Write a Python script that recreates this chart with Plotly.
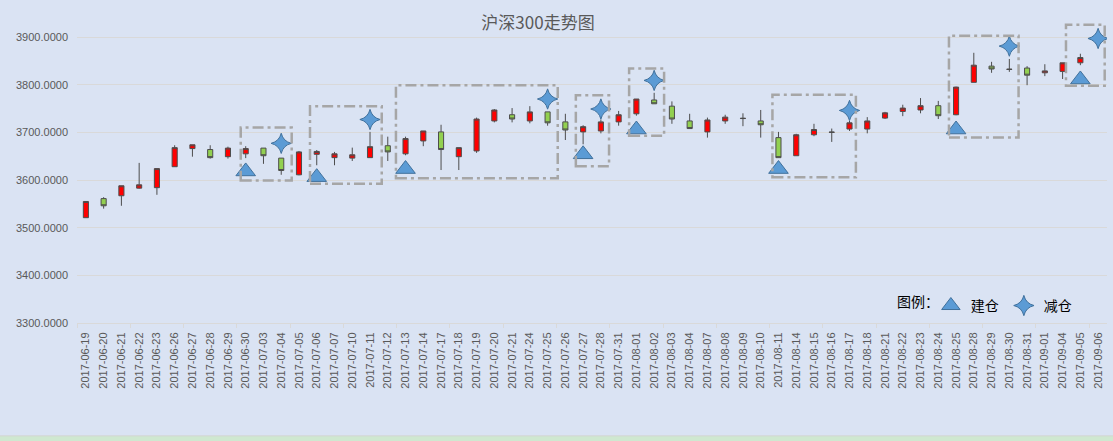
import plotly.graph_objects as go

# ---------------- data ----------------
dates = [
    "2017-06-19", "2017-06-20", "2017-06-21", "2017-06-22", "2017-06-23",
    "2017-06-26", "2017-06-27", "2017-06-28", "2017-06-29", "2017-06-30",
    "2017-07-03", "2017-07-04", "2017-07-05", "2017-07-06", "2017-07-07",
    "2017-07-10", "2017-07-11", "2017-07-12", "2017-07-13", "2017-07-14",
    "2017-07-17", "2017-07-18", "2017-07-19", "2017-07-20", "2017-07-21",
    "2017-07-24", "2017-07-25", "2017-07-26", "2017-07-27", "2017-07-28",
    "2017-07-31", "2017-08-01", "2017-08-02", "2017-08-03", "2017-08-04",
    "2017-08-07", "2017-08-08", "2017-08-09", "2017-08-10", "2017-08-11",
    "2017-08-14", "2017-08-15", "2017-08-16", "2017-08-17", "2017-08-18",
    "2017-08-21", "2017-08-22", "2017-08-23", "2017-08-24", "2017-08-25",
    "2017-08-28", "2017-08-29", "2017-08-30", "2017-08-31", "2017-09-01",
    "2017-09-04", "2017-09-05", "2017-09-06",
]

open_ = [3521, 3561, 3567, 3583, 3584, 3628, 3666, 3664, 3649, 3655,
         3667, 3646, 3611, 3654, 3647, 3646, 3647, 3672, 3655, 3682,
         3701, 3649, 3661, 3724, 3737, 3724, 3743, 3722, 3701, 3703,
         3722, 3739, 3768, 3755, 3724, 3701, 3724, 3729, 3724, 3689,
         3651, 3695, 3700, 3707, 3707, 3730, 3744, 3747, 3756, 3737,
         3805, 3839, 3832, 3835, 3825, 3828, 3846]
high = [3555, 3564, 3588, 3636, 3624, 3673, 3674, 3673, 3670, 3671,
        3667, 3646, 3661, 3663, 3659, 3668, 3701, 3691, 3691, 3703,
        3716, 3668, 3731, 3749, 3751, 3755, 3743, 3739, 3715, 3727,
        3745, 3770, 3783, 3765, 3739, 3731, 3737, 3740, 3747, 3701,
        3697, 3718, 3708, 3724, 3732, 3743, 3758, 3772, 3766, 3796,
        3867, 3848, 3854, 3839, 3843, 3846, 3865]
low = [3521, 3540, 3546, 3582, 3569, 3628, 3649, 3645, 3645, 3646,
       3634, 3611, 3610, 3631, 3631, 3640, 3647, 3640, 3652, 3671,
       3621, 3621, 3657, 3721, 3721, 3719, 3714, 3684, 3675, 3698,
       3714, 3735, 3760, 3718, 3708, 3689, 3718, 3713, 3689, 3647,
       3651, 3692, 3680, 3703, 3698, 3728, 3734, 3740, 3728, 3736,
       3805, 3825, 3827, 3799, 3818, 3812, 3841]
close = [3555, 3546, 3588, 3590, 3624, 3668, 3674, 3647, 3667, 3666,
         3651, 3620, 3659, 3660, 3655, 3653, 3670, 3659, 3687, 3703,
         3664, 3668, 3728, 3747, 3728, 3743, 3720, 3705, 3712, 3722,
         3737, 3770, 3760, 3728, 3708, 3726, 3732, 3729.5, 3716, 3647,
         3695, 3706, 3700.5, 3720, 3724, 3741, 3751, 3756, 3735, 3795,
         3841, 3833, 3832.5, 3820, 3829, 3846, 3857]

buy_dates = ["2017-06-30", "2017-07-06", "2017-07-13", "2017-07-27",
             "2017-08-01", "2017-08-11", "2017-08-25", "2017-09-05"]
buy_values = [3618, 3606, 3623, 3654, 3706, 3623, 3706, 3811]

sell_dates = ["2017-07-04", "2017-07-11", "2017-07-25", "2017-07-28",
              "2017-08-02", "2017-08-17", "2017-08-30", "2017-09-06"]
sell_values = [3677, 3727, 3770, 3749, 3809, 3746, 3881, 3897]

# highlighted trading windows: (start index, end index, low, high)
box_x0 = [8.72, 12.62, 17.46, 27.59, 30.59, 38.66, 48.6, 55.19]
box_x1 = [11.59, 16.66, 26.57, 29.46, 32.56, 43.36, 52.52, 57.37]
box_y0 = [3599, 3592, 3604, 3629, 3693, 3606, 3689, 3798]
box_y1 = [3710, 3755, 3799, 3778, 3834, 3779, 3903, 3926]

y_ticks = [3300, 3400, 3500, 3600, 3700, 3800, 3900]

# ---------------- figure ----------------
idx = {d: i for i, d in enumerate(dates)}
n_candles = len(open_)

BG = "#dae3f3"
GRID = "#d9d9d9"
TXT = "#595959"
BLUE = "#5b9bd5"
BLUE_EDGE = "#41719c"
CJK = "Noto Sans CJK SC"

fig = go.Figure()

fig.add_trace(go.Candlestick(
    x=list(range(n_candles)),
    open=open_, high=high, low=low, close=close,
    increasing=dict(fillcolor="#ff0000", line=dict(color="#4d4d4d", width=1)),
    decreasing=dict(fillcolor="#92d050", line=dict(color="#4d4d4d", width=1)),
    whiskerwidth=0,
    showlegend=False,
    hoverinfo="skip",
))

fig.add_trace(go.Scatter(
    x=[idx[d] for d in buy_dates], y=buy_values,
    mode="markers", name="建仓",
    marker=dict(symbol="triangle-up", size=17, color=BLUE,
                line=dict(color=BLUE_EDGE, width=1)),
    hoverinfo="skip",
))

fig.add_trace(go.Scatter(
    x=[idx[d] for d in sell_dates], y=sell_values,
    mode="markers", name="减仓",
    marker=dict(symbol="star-diamond", size=14.5, color=BLUE,
                line=dict(color=BLUE_EDGE, width=1)),
    hoverinfo="skip",
))

for x0, x1, y0, y1 in zip(box_x0, box_x1, box_y0, box_y1):
    fig.add_shape(type="rect", xref="x", yref="y",
                  x0=x0, x1=x1, y0=y0, y1=y1,
                  line=dict(color="#a6a6a6", width=2.5, dash="11px,4px,3px,4px"),
                  fillcolor="rgba(0,0,0,0)", layer="above")

# sheet strip below the chart (Excel window edge)
fig.add_shape(type="rect", xref="paper", yref="paper",
              x0=-0.08, x1=1.01, y0=-0.40, y1=-0.370,
              fillcolor="#cfe8d0", line=dict(color="#d4d4d4", width=1),
              layer="above")

fig.add_annotation(text="图例：", xref="paper", yref="paper",
                   x=0.794, xanchor="left", y=0.072, yanchor="middle",
                   showarrow=False,
                   font=dict(family=CJK, size=14, color="#000000"))

fig.update_layout(
    width=1113, height=441,
    margin=dict(l=77, r=6, t=18, b=118),
    paper_bgcolor=BG, plot_bgcolor=BG,
    font=dict(family="Liberation Sans, Noto Sans CJK SC", size=11, color=TXT),
    title=dict(text="沪深300走势图", x=0.4834, xref="container", xanchor="center",
               y=0.948, yref="container", yanchor="middle",
               font=dict(family=CJK, size=17, color=TXT)),
    boxgap=0.59,
    hovermode=False,
    showlegend=True,
    legend=dict(orientation="h", x=0.829, xanchor="left", y=0.056, yanchor="middle",
                bgcolor="rgba(0,0,0,0)",
                font=dict(family=CJK, size=14, color="#000000"),
                itemsizing="trace"),
    xaxis=dict(
        range=[-0.5, 57.5],
        tickmode="array",
        tickvals=list(range(len(dates))),
        ticktext=dates,
        tickangle=-90,
        ticks="",
        ticklabelstandoff=4,
        showgrid=False,
        zeroline=False,
        showline=True, linecolor=GRID, linewidth=1,
        rangeslider=dict(visible=False),
        minor=dict(tickmode="linear", tick0=-0.5, dtick=3, ticks="outside",
                   ticklen=4, tickcolor=GRID, tickwidth=1, showgrid=False),
        tickfont=dict(size=11, color=TXT),
    ),
    yaxis=dict(
        range=[3300, 3940],
        tickmode="array",
        tickvals=y_ticks,
        tickformat=".4f",
        showgrid=True, gridcolor=GRID, gridwidth=1,
        zeroline=False,
        showline=False,
        ticks="",
        ticklabelstandoff=8,
        tickfont=dict(size=11, color=TXT),
    ),
)

fig.write_html("out.html",
               config={"displayModeBar": False, "staticPlot": True},
               post_script="document.body.style.margin='0';document.body.style.background='%s';" % BG)
